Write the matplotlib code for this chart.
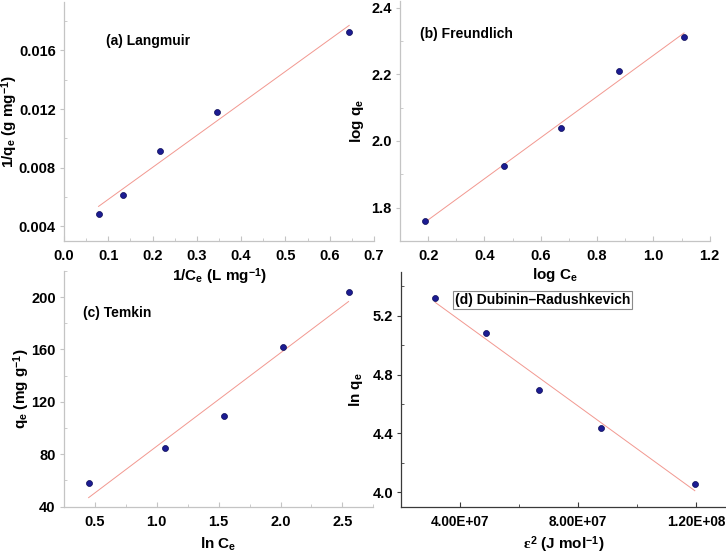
import numpy as np
import matplotlib
matplotlib.use('Agg')
import matplotlib.pyplot as plt
from matplotlib.ticker import MultipleLocator, FormatStrFormatter, FuncFormatter

plt.rcParams['font.family'] = ['Liberation Sans', 'DejaVu Sans']
plt.rcParams['font.weight'] = 'bold'
plt.rcParams['mathtext.fontset'] = 'custom'
plt.rcParams['mathtext.rm'] = 'Liberation Sans:bold'
plt.rcParams['mathtext.bf'] = 'Liberation Sans:bold'
plt.rcParams['mathtext.it'] = 'Liberation Serif'

# data
langmuir_x = [0.078, 0.134, 0.216, 0.345, 0.644]
langmuir_y = [0.00487, 0.00613, 0.00911, 0.01182, 0.01727]
freundlich_x = [0.19, 0.468, 0.671, 0.877, 1.109]
freundlich_y = [1.76, 1.925, 2.038, 2.21, 2.312]
temkin_x = [0.449, 1.069, 1.542, 2.017, 2.55]
temkin_y = [58.1, 84.5, 109.4, 161.8, 204.1]
dr_x = [3.15e7, 4.86e7, 6.68e7, 8.76e7, 1.195e8]
dr_y = [5.318, 5.085, 4.695, 4.437, 4.059]

W, H = 726, 556
fig = plt.figure(figsize=(W / 100, H / 100), dpi=100)

label_size = 11


def make_ax(x0, y_top, x1, y_bot):
    # pixel box -> figure fraction
    ax = fig.add_axes([x0 / W, (H - y_bot) / H, (x1 - x0) / W, (y_bot - y_top) / H])
    ax.patch.set_facecolor('none')
    return ax


def style(ax, spine_col, xsize=10.5):
    for s in ['top', 'right']:
        ax.spines[s].set_visible(False)
    for s in ['left', 'bottom']:
        ax.spines[s].set_color(spine_col)
        ax.spines[s].set_linewidth(0.9)
    ax.tick_params(axis='x', which='major', direction='in', length=3.5, width=0.8,
                   color=spine_col, labelsize=xsize, pad=6)
    ax.tick_params(axis='x', which='minor', direction='in', length=2.5, width=0.6, color=spine_col)
    ax.tick_params(axis='y', which='major', direction='out', length=3, width=0.8,
                   color=spine_col, labelsize=10.5, pad=3)
    ax.tick_params(axis='y', which='minor', direction='in', length=2.5, width=0.6, color=spine_col)
    for lab in ax.get_xticklabels() + ax.get_yticklabels():
        lab.set_fontweight('bold')


def draw(ax, x, y):
    x = np.array(x)
    y = np.array(y)
    k, b = np.polyfit(x, y, 1)
    xs = np.array([x.min(), x.max()])
    ax.plot(xs, k * xs + b, color='#f29890', lw=0.7, zorder=2)
    ax.plot(x, y, 'o', ms=4.3, mfc='#1c1c92', mec='#0a0a55', mew=0.5, zorder=3)


light = '#c4c4c4'

# (a) Langmuir
ax1 = make_ax(64, 2, 374, 241)
draw(ax1, langmuir_x, langmuir_y)
ax1.set_xlim(0, 0.7)
ax1.set_ylim(0.003, 0.0193)
ax1.xaxis.set_major_locator(MultipleLocator(0.1))
ax1.xaxis.set_minor_locator(MultipleLocator(0.05))
ax1.xaxis.set_major_formatter(FormatStrFormatter('%.1f'))
ax1.yaxis.set_major_locator(MultipleLocator(0.004))
ax1.yaxis.set_minor_locator(MultipleLocator(0.002))
ax1.yaxis.set_major_formatter(FormatStrFormatter('%.3f'))
style(ax1, light)
ax1.set_xlabel(r'1/C$_\mathregular{e}$ (L mg$^\mathregular{-1}$)', fontsize=label_size, fontweight='bold')
ax1.set_ylabel(r'1/q$_\mathregular{e}$ (g mg$^\mathregular{-1}$)', fontsize=label_size, fontweight='bold')
ax1.xaxis.set_label_coords(0.5, -0.105)
ax1.yaxis.set_label_coords(-0.142, 0.5)
ax1.text(0.1355, 0.837, '(a) Langmuir', transform=ax1.transAxes, fontsize=10,
         fontweight='bold', va='center', ha='left')

# (b) Freundlich
ax2 = make_ax(400, 1, 709.7, 241)
draw(ax2, freundlich_x, freundlich_y)
ax2.set_xlim(0.1, 1.2)
ax2.set_ylim(1.7, 2.42)
ax2.xaxis.set_major_locator(MultipleLocator(0.2))
ax2.xaxis.set_minor_locator(MultipleLocator(0.1))
ax2.xaxis.set_major_formatter(FormatStrFormatter('%.1f'))
ax2.yaxis.set_major_locator(MultipleLocator(0.2))
ax2.yaxis.set_minor_locator(MultipleLocator(0.1))
ax2.yaxis.set_major_formatter(FormatStrFormatter('%.1f'))
style(ax2, light)
ax2.set_xlabel(r'log C$_\mathregular{e}$', fontsize=label_size, fontweight='bold')
ax2.set_ylabel(r'log q$_\mathregular{e}$', fontsize=label_size, fontweight='bold')
ax2.xaxis.set_label_coords(0.5, -0.104)
ax2.yaxis.set_label_coords(-0.109, 0.5)
ax2.text(0.0656, 0.864, '(b) Freundlich', transform=ax2.transAxes, fontsize=10,
         fontweight='bold', va='center', ha='left')

# (c) Temkin
ax3 = make_ax(64, 270.8, 373.3, 506.7)
draw(ax3, temkin_x, temkin_y)
ax3.set_xlim(0.25, 2.75)
ax3.set_ylim(40, 220)
ax3.xaxis.set_major_locator(MultipleLocator(0.5))
ax3.xaxis.set_minor_locator(MultipleLocator(0.25))
ax3.xaxis.set_major_formatter(FormatStrFormatter('%.1f'))
ax3.yaxis.set_major_locator(MultipleLocator(40))
ax3.yaxis.set_minor_locator(MultipleLocator(20))
style(ax3, light)
ax3.set_xlabel(r'ln C$_\mathregular{e}$', fontsize=label_size, fontweight='bold')
ax3.set_ylabel(r'q$_\mathregular{e}$ (mg g$^\mathregular{-1}$)', fontsize=label_size, fontweight='bold')
ax3.xaxis.set_label_coords(0.5, -0.125)
ax3.yaxis.set_label_coords(-0.104, 0.5)
ax3.text(0.0605, 0.822, '(c) Temkin', transform=ax3.transAxes, fontsize=10,
         fontweight='bold', va='center', ha='left')

# (d) Dubinin-Radushkevich
ax4 = make_ax(401.3, 271.5, 725.8, 507)
draw(ax4, dr_x, dr_y)
ax4.set_xlim(2e7, 1.3e8)
ax4.set_ylim(3.9, 5.5)
ax4.xaxis.set_major_locator(MultipleLocator(4e7))
ax4.xaxis.set_minor_locator(MultipleLocator(2e7))
ax4.xaxis.set_major_formatter(FuncFormatter(lambda v, p: '%.2E' % v))
ax4.yaxis.set_major_locator(MultipleLocator(0.4))
ax4.yaxis.set_minor_locator(MultipleLocator(0.2))
ax4.yaxis.set_major_formatter(FormatStrFormatter('%.1f'))
style(ax4, '#3a3a3a', xsize=9.8)
ax4.set_xlabel(r'$\varepsilon^\mathregular{2}$ (J mol$^\mathregular{-1}$)', fontsize=label_size, fontweight='bold')
ax4.set_ylabel(r'ln q$_\mathregular{e}$', fontsize=label_size, fontweight='bold')
ax4.xaxis.set_label_coords(0.5, -0.116)
ax4.yaxis.set_label_coords(-0.112, 0.5)
ax4.text(0.1646, 0.8777, '(d) Dubinin\u2013Radushkevich', transform=ax4.transAxes, fontsize=10,
         fontweight='bold', va='center', ha='left',
         bbox=dict(boxstyle='square,pad=0.15', fc='white', ec='#8a8a8a', lw=0.8))

fig.savefig('out.png', dpi=100)
